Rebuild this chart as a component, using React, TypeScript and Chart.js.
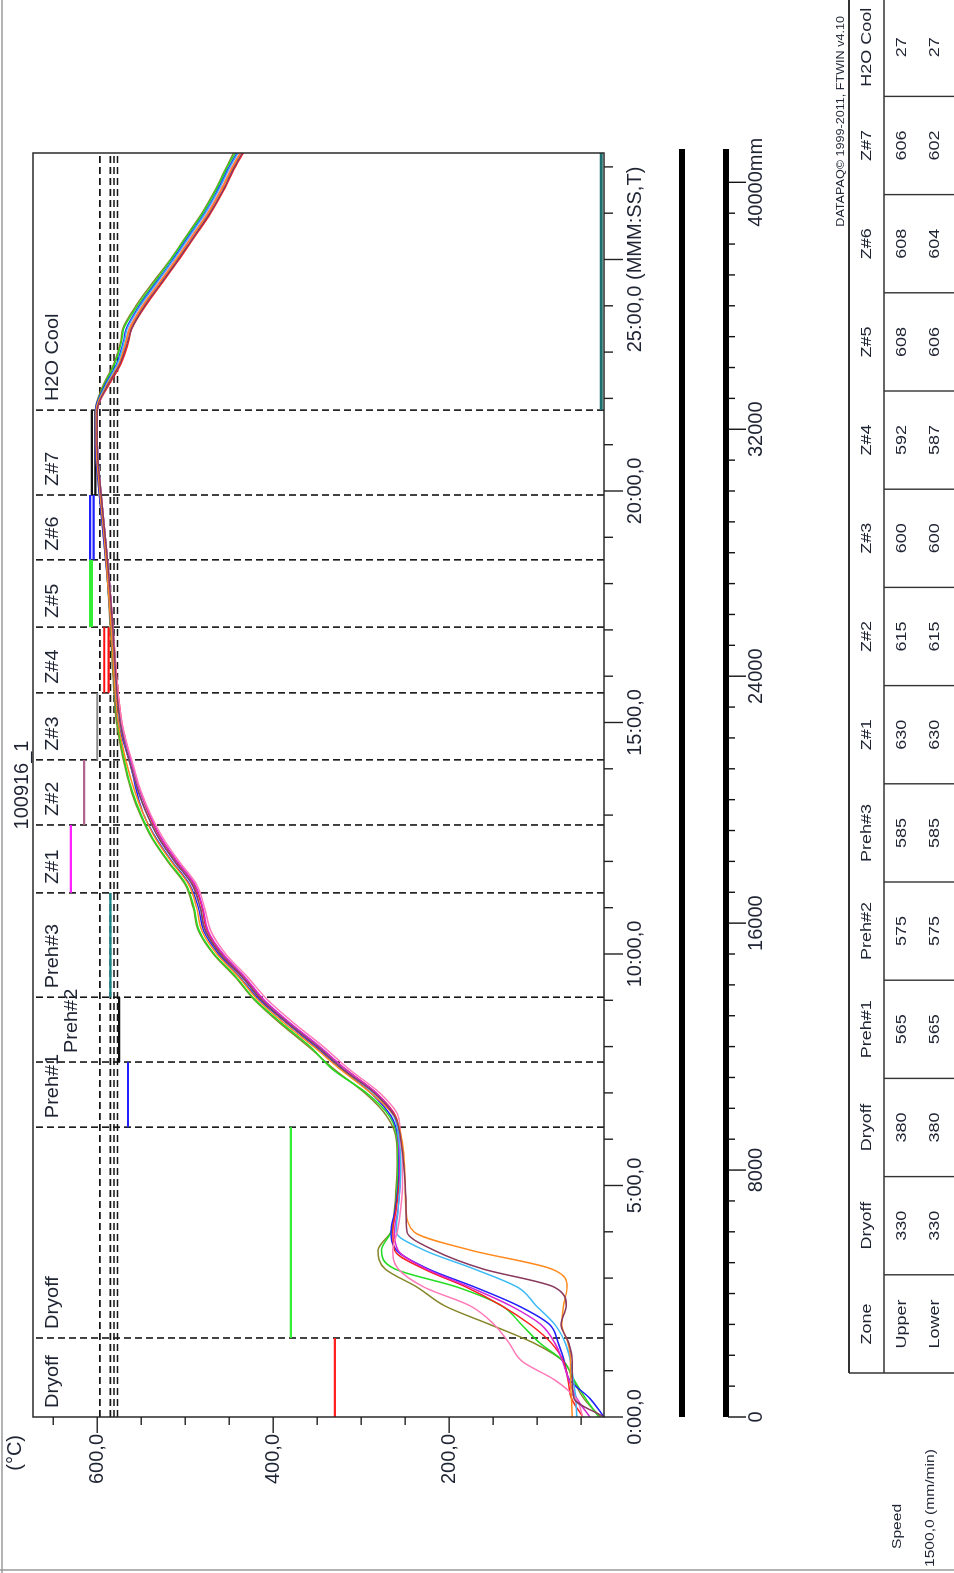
import React, { useEffect, useRef } from "react";
import { Chart, registerables } from "chart.js";

Chart.register(...registerables);

// ---------- canvas (landscape, rotated on the page) ----------
const W = 1573;
const H = 954;

// ---------- data ----------
const timeMin = [0, 0.4, 0.8, 1.2, 1.6, 2.0, 2.4, 2.8, 3.2, 3.6, 4.0, 4.5, 5.0, 5.5, 6.0, 6.5, 7.0, 7.5, 8.0, 8.5, 9.0, 9.5, 10.0, 10.5, 11.0, 11.5, 12.0, 12.5, 13.0, 13.5, 14.0, 15.0, 16.0, 17.0, 18.0, 19.0, 20.0, 21.0, 21.75, 22.25, 22.75, 23.25, 23.5, 24.0, 24.5, 25.0, 25.5, 26.0, 26.5, 27.0, 27.3];

const probeOlive = [28, 47, 59, 70, 104, 154, 205, 236, 273, 281, 266, 262, 260, 259, 260, 271, 296, 330, 360, 392, 421, 443, 468, 485, 491, 500, 520, 538, 551, 561, 568, 578, 582, 585, 588, 593, 598, 602, 602, 594, 581, 573, 571, 556, 537, 517, 499, 481, 466, 453, 445];
const probeGreen = [30, 45, 58, 70, 97, 118, 140, 190, 262, 277, 266, 261, 259, 258, 259, 268, 294, 332, 358, 390, 420, 442, 467, 484, 490, 499, 519, 537, 550, 560, 567, 577, 581, 584, 588, 592, 597, 601, 601, 593, 580, 572, 570, 554, 535, 516, 498, 480, 465, 452, 443];
const probeBlue = [24, 40, 63, 69, 76, 86, 121, 170, 224, 260, 266, 261, 258, 257, 258, 266, 289, 321, 352, 384, 415, 438, 462, 479, 485, 495, 515, 533, 547, 555, 561, 576, 581, 584, 588, 593, 598, 602, 602, 592, 578, 570, 567, 552, 533, 514, 496, 478, 463, 450, 441];
const probeRed = [48, 61, 65, 70, 84, 108, 140, 180, 229, 262, 264, 260, 257, 256, 257, 261, 283, 317, 348, 381, 411, 433, 458, 475, 481, 490, 510, 528, 541, 551, 559, 572, 578, 582, 586, 591, 596, 600, 600, 588, 573, 564, 561, 545, 526, 507, 489, 471, 456, 443, 434];
const probeSky = [55, 56, 59, 62, 68, 80, 101, 122, 172, 228, 260, 258, 256, 255, 257, 263, 286, 320, 350, 383, 413, 435, 460, 477, 483, 492, 512, 530, 543, 553, 561, 574, 579, 582, 586, 591, 596, 600, 601, 591, 577, 569, 566, 551, 532, 513, 495, 477, 462, 449, 440];
const probePink = [48, 56, 80, 117, 132, 149, 176, 228, 258, 264, 259, 255, 253, 253, 255, 258, 279, 313, 343, 376, 406, 429, 454, 471, 478, 487, 507, 525, 539, 550, 558, 572, 578, 582, 586, 591, 596, 600, 600, 589, 575, 567, 564, 549, 530, 511, 493, 475, 460, 447, 438];
const probeOrange = [60, 61, 62, 62, 65, 72, 70, 66, 84, 175, 240, 249, 250, 251, 254, 262, 289, 323, 354, 387, 417, 439, 464, 481, 487, 496, 516, 534, 547, 557, 565, 576, 581, 584, 588, 592, 597, 601, 601, 590, 575, 567, 563, 548, 529, 510, 492, 474, 459, 446, 437];
const probeMaroon = [24, 58, 60, 60, 64, 73, 67, 80, 162, 217, 248, 249, 250, 252, 255, 262, 285, 320, 350, 383, 413, 435, 460, 477, 483, 492, 512, 530, 543, 553, 561, 574, 579, 582, 586, 591, 596, 600, 600, 589, 574, 565, 561, 546, 527, 508, 490, 472, 457, 444, 435];
const probeMagenta = [40, 55, 64, 71, 80, 96, 130, 176, 226, 258, 262, 258, 256, 256, 258, 262, 283, 317, 347, 380, 410, 432, 457, 474, 480, 489, 509, 527, 540, 551, 559, 573, 579, 582, 586, 591, 596, 600, 600, 590, 575, 567, 563, 548, 529, 510, 492, 474, 459, 446, 437];

const probeList = [
  { values: probeMaroon, color: "#8a3a5e" },
  { values: probeOrange, color: "#ff8a1e" },
  { values: probePink, color: "#ff7ab8" },
  { values: probeSky, color: "#3cbaf5" },
  { values: probeMagenta, color: "#d626d6" },
  { values: probeRed, color: "#ff2020" },
  { values: probeBlue, color: "#2020ff" },
  { values: probeGreen, color: "#22dd22" },
  { values: probeOlive, color: "#86862a" },
];

const zoneNames = ["Dryoff", "Dryoff", "Preh#1", "Preh#2", "Preh#3", "Z#1", "Z#2", "Z#3", "Z#4", "Z#5", "Z#6", "Z#7", "H2O Cool"];
const zoneStartMm = [0, 2560, 9390, 11500, 13600, 16980, 19180, 21290, 23460, 25590, 27770, 29870, 32620];
const upperSet = [330, 380, 565, 575, 585, 630, 615, 600, 592, 608, 608, 606, 27];
const lowerSet = [330, 380, 565, 575, 585, 630, 615, 600, 587, 606, 604, 602, 27];
const setColors = ["#ff2020", "#33ee33", "#2020ff", "#111111", "#178585", "#ff22ff", "#b0668e", "#8a8a8a", "#ff1010", "#33ee33", "#2020ff", "#111111", "#1d6e6e"];
const zoneLabelRow = [0, 0, 0, 1, 0, 0, 0, 0, 0, 0, 0, 0, 0];

const limitLines = [597, 585, 581, 577];

const speedMmPerMin = 1500;
const speedLabel = "1500,0 (mm/min)";
const title = "100916_1";
const copyright = "DATAPAQ\u00A9 1999-2011, FTWIN v4.10";

const timeMax = 27.3;
const tempMin = 24;
const tempMax = 673;
const timeTicks = [0, 1, 2, 3, 4, 5, 6, 7, 8, 9, 10, 11, 12, 13, 14, 15, 16, 17, 18, 19, 20, 21, 22, 23, 24, 25, 26, 27];
const timeMajor = [0, 5, 10, 15, 20, 25];
const tempTicks = [50, 100, 150, 200, 250, 300, 350, 400, 450, 500, 550, 600, 650];
const tempMajor = [200, 400, 600];
const distMaxMm = 40000;
const distStepMm = 1000;
const distMajorMm = [0, 8000, 16000, 24000, 32000, 40000];

// ---------- drawing helpers ----------
const FONT = '"Liberation Sans", Arial, sans-serif';
const INK = "#1f2433";

function txt(ctx: CanvasRenderingContext2D, s: string, x: number, y: number, size: number, align: CanvasTextAlign = "left", sx = 1, color = INK) {
  ctx.save();
  ctx.translate(x, y);
  ctx.scale(sx, 1);
  ctx.font = `${size}px ${FONT}`;
  ctx.fillStyle = color;
  ctx.textAlign = align;
  ctx.textBaseline = "middle";
  ctx.fillText(s, 0, 0);
  ctx.restore();
}

function seg(ctx: CanvasRenderingContext2D, x1: number, y1: number, x2: number, y2: number, w: number, color: string) {
  ctx.beginPath();
  ctx.lineWidth = w;
  ctx.strokeStyle = color;
  ctx.moveTo(x1, y1);
  ctx.lineTo(x2, y2);
  ctx.stroke();
}

const overlay = {
  id: "overlay",
  afterDraw(chart: any) {
    const ctx: CanvasRenderingContext2D = chart.ctx;
    const xs = chart.scales.x;
    const ys = chart.scales.y;
    const { left, right, top, bottom } = chart.chartArea;
    ctx.save();
    ctx.setLineDash([]);

    // outer frame
    seg(ctx, 0, 2, W, 2, 1.5, "#9a9a9a");
    seg(ctx, 3, 0, 3, H, 1.5, "#9a9a9a");

    // plot border
    ctx.lineWidth = 1.5;
    ctx.strokeStyle = "#2a2a2a";
    ctx.strokeRect(left, top, right - left, bottom - top);

    // time axis (bottom)
    timeTicks.forEach((t) => {
      const x = xs.getPixelForValue(t);
      const major = timeMajor.includes(t);
      seg(ctx, x, bottom, x, bottom + (major ? 19 : 9), 1.4, "#222");
      if (major) {
        const label = `${t}:00,0` + (t === 25 ? " (MMM:SS,T)" : "");
        txt(ctx, label, x, bottom + 31, 20, "center");
      }
    });

    // temperature axis (left)
    tempTicks.forEach((v) => {
      const y = ys.getPixelForValue(v);
      const major = tempMajor.includes(v);
      seg(ctx, left, y, left - (major ? 16 : 8), y, 1.4, "#222");
      if (major) txt(ctx, `${v},0`, left - 17, y, 20, "right");
    });
    txt(ctx, "(\u00B0C)", left - 18, 15, 20, "right");

    // title
    txt(ctx, title, (left + right) / 2, 22, 20, "center");

    // zone labels
    zoneNames.forEach((z, i) => {
      const x = xs.getPixelForValue(zoneStartMm[i] / speedMmPerMin) + 9;
      txt(ctx, z, x, top + 20 + zoneLabelRow[i] * 19, 19, "left", 1.05);
    });

    // conveyor bar and distance scale
    const x0 = xs.getPixelForValue(0);
    seg(ctx, x0, 682, right + 4, 682, 6, "#000");
    seg(ctx, x0, 726, right + 4, 726, 6, "#000");
    for (let d = 0; d <= distMaxMm; d += distStepMm) {
      const x = xs.getPixelForValue(d / speedMmPerMin);
      const major = distMajorMm.includes(d);
      seg(ctx, x, 728, x, major ? 746 : 735, 1.4, "#111");
      if (major) txt(ctx, d === distMaxMm ? `${d}mm` : `${d}`, x, 756, 20, "center");
    }

    // zone set-point table
    const tLeft = 200;
    const colW = 98.2;
    const cols = ["Zone", ...zoneNames];
    const tTop = 849;
    const tSep = 884;
    seg(ctx, tLeft, tTop, W, tTop, 2.2, "#333");
    seg(ctx, tLeft, tSep, W, tSep, 1.5, "#333");
    seg(ctx, tLeft, tTop, tLeft, H, 1.5, "#333");
    for (let c = 1; c <= cols.length; c++) {
      const x = tLeft + c * colW;
      seg(ctx, x, tSep, x, H, 1.4, "#333");
    }
    cols.forEach((name, c) => {
      const cx = tLeft + (c + 0.5) * colW;
      txt(ctx, name, cx, 867, 15, "center", 1.2);
      const up = c === 0 ? "Upper" : `${upperSet[c - 1]}`;
      const lo = c === 0 ? "Lower" : `${lowerSet[c - 1]}`;
      txt(ctx, up, cx, 902, 15, "center", 1.2);
      txt(ctx, lo, cx, 935, 15, "center", 1.2);
    });
    txt(ctx, copyright, W - 16, 841, 10.5, "right", 1.2);
    txt(ctx, "Speed", 24, 897, 13, "left", 1.2);
    txt(ctx, speedLabel, 6, 930, 13, "left", 1.2);

    ctx.restore();
  },
};

export default function App() {
  const ref = useRef<HTMLCanvasElement | null>(null);

  useEffect(() => {
    if (!ref.current) return;
    const datasets: any[] = [];

    probeList.forEach((p) => {
      datasets.push({
        data: timeMin.map((t, i) => ({ x: t, y: p.values[i] })),
        borderColor: p.color,
        borderWidth: 1.5,
        pointRadius: 0,
        cubicInterpolationMode: "monotone",
        fill: false,
        order: 0,
      });
    });

    zoneNames.forEach((_, i) => {
      const t0 = zoneStartMm[i] / speedMmPerMin;
      const t1 = i < zoneNames.length - 1 ? zoneStartMm[i + 1] / speedMmPerMin : timeMax;
      const levels = upperSet[i] === lowerSet[i] ? [upperSet[i]] : [upperSet[i], lowerSet[i]];
      levels.forEach((v) => {
        datasets.push({
          data: [{ x: t0, y: v }, { x: t1, y: v }],
          borderColor: setColors[i],
          borderWidth: i === zoneNames.length - 1 ? 3 : 2.2,
          pointRadius: 0,
          fill: false,
          order: 1,
        });
      });
      if (i > 0) {
        datasets.push({
          data: [{ x: t0, y: tempMin }, { x: t0, y: tempMax }],
          borderColor: "#151515",
          borderWidth: 1.6,
          borderDash: [7, 4],
          pointRadius: 0,
          fill: false,
          order: 2,
        });
      }
    });

    limitLines.forEach((v) => {
      datasets.push({
        data: [{ x: 0, y: v }, { x: timeMax, y: v }],
        borderColor: "#151515",
        borderWidth: 1.6,
        borderDash: [7, 4],
        pointRadius: 0,
        fill: false,
        order: 2,
      });
    });

    const chart = new Chart(ref.current, {
      type: "line",
      data: { datasets },
      options: {
        responsive: false,
        animation: false,
        devicePixelRatio: 1,
        events: [],
        layout: { padding: { left: 156, right: W - 1420, top: 33, bottom: H - 604 } },
        plugins: { legend: { display: false }, tooltip: { enabled: false }, title: { display: false } },
        scales: {
          x: { type: "linear", min: 0, max: timeMax, display: false },
          y: { type: "linear", min: tempMin, max: tempMax, display: false },
        },
      },
      plugins: [overlay],
    } as any);

    return () => chart.destroy();
  }, []);

  return (
    <div style={{ position: "absolute", left: 0, top: 0, width: 954, height: 1573, overflow: "hidden", background: "#fff" }}>
      <div
        style={{
          position: "absolute",
          left: 0,
          top: 0,
          width: W,
          height: H,
          transformOrigin: "0 0",
          transform: `translateY(${W}px) rotate(-90deg)`,
        }}
      >
        <canvas ref={ref} width={W} height={H} style={{ width: W, height: H, display: "block" }} />
      </div>
    </div>
  );
}
